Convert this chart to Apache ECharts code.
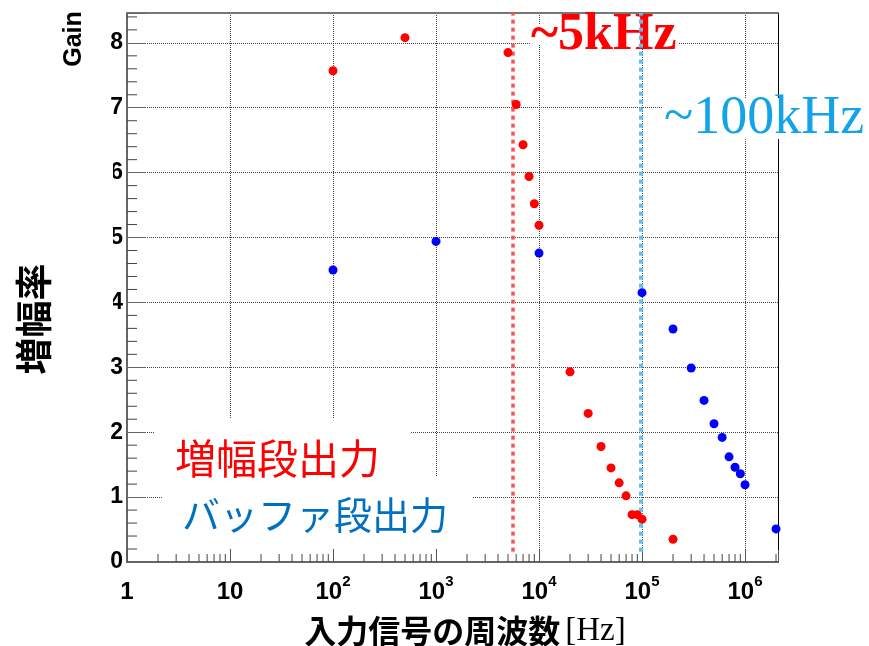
<!DOCTYPE html>
<html><head><meta charset="utf-8">
<script src="https://cdn.jsdelivr.net/npm/echarts@6/dist/echarts.min.js"></script>
<style>html,body{margin:0;padding:0;background:#fff}#c{width:869px;height:646px}</style>
</head><body><div id="c"></div>
<script>
// --- data ---
const freqAmp = [100, 500, 5000, 6000, 7000, 8000, 9000, 10000, 20000, 30000, 40000, 50000, 60000, 70000, 80000, 90000, 100000, 200000];
const gainAmp = [7.57, 8.08, 7.85, 7.05, 6.43, 5.94, 5.52, 5.19, 2.93, 2.29, 1.78, 1.45, 1.22, 1.02, 0.73, 0.73, 0.66, 0.35];
const freqBuf = [100, 1000, 10000, 100000, 200000, 300000, 400000, 500000, 600000, 700000, 800000, 900000, 1000000, 2000000];
const gainBuf = [4.50, 4.94, 4.76, 4.15, 3.59, 2.99, 2.49, 2.13, 1.92, 1.62, 1.46, 1.36, 1.19, 0.51];
const cutoffAmp = 5620;     // red dotted marker (~5kHz)
const cutoffBuf = 96200;    // blue dotted marker (~100kHz)
const markerLow = 0.16, markerHigh = 8.46;
const xMin = 1, xMax = 2.09e6;
const yMin = 0, yMax = 8.46;
const seriesNames = ['増幅段出力', 'バッファ段出力'];
const xTitle = '入力信号の周波数';
const xUnit = '[Hz]';
const yTitle = '増幅率';
const yUnitLabel = 'Gain';
const annotAmp = '~5kHz';
const annotBuf = '~100kHz';

// minor tick positions (axis decoration)
const xMinorTicks = [];
for (let e = 0; e <= 6; e++) for (let m = 2; m <= 9; m++) { const v = m * Math.pow(10, e); if (v < xMax) xMinorTicks.push(v); }
const yMinorTicks = [];
for (let i = 1; i <= 42; i++) if (i % 5 !== 0) yMinorTicks.push(i / 5);

const chart = echarts.init(document.getElementById('c'), null, {renderer: 'canvas'});
const sansB = {fontFamily: 'Liberation Sans', fontWeight: 'bold', color: '#000'};

function xLabel(v) {
  const e = Math.log10(v);
  const r = Math.round(e);
  if (Math.abs(e - r) > 1e-6) return '';
  if (r === 0) return '{b|1}';
  if (r === 1) return '{b|10}';
  return '{b|10}{s|' + r + '}';
}

const option = {
  animation: false,
  backgroundColor: '#fff',
  grid: {left: 127, right: 91, top: 13, bottom: 84},
  xAxis: [{
    type: 'log', logBase: 10, min: xMin, max: xMax, splitNumber: 6,
    axisLine: {onZero: false, lineStyle: {color: '#666', width: 2}},
    axisTick: {show: true, inside: true, length: 12, lineStyle: {color: '#555', width: 1}},
    axisLabel: {
      margin: 12, formatter: xLabel, showMinLabel: true, showMaxLabel: true,
      rich: {
        b: Object.assign({fontSize: 24, lineHeight: 30, verticalAlign: 'bottom'}, sansB),
        s: Object.assign({fontSize: 15, lineHeight: 15, verticalAlign: 'top'}, sansB)
      }
    },
    splitLine: {show: true, lineStyle: {color: '#444', width: 1, type: [1, 1]}},
    minorTick: {show: false}
  }, {
    type: 'log', logBase: 10, min: xMin, max: xMax, position: 'top',
    axisLine: {onZero: false, lineStyle: {color: '#777', width: 2}},
    axisTick: {show: false}, axisLabel: {show: false}, splitLine: {show: false}
  }],
  yAxis: [{
    type: 'value', min: yMin, max: yMax, interval: 1,
    axisLine: {show: true, onZero: false, lineStyle: {color: '#666', width: 2}},
    axisTick: {show: true, inside: true, length: 19, lineStyle: {color: '#666', width: 1}},
    axisLabel: Object.assign({margin: 4, fontSize: 23,
      formatter: v => (Math.abs(v - Math.round(v)) < 1e-9 ? String(Math.round(v)) : '')}, sansB),
    splitLine: {show: true, lineStyle: {color: '#444', width: 1, type: [1, 1]}}
  }, {
    type: 'value', min: yMin, max: yMax, position: 'right',
    axisLine: {show: true, onZero: false, lineStyle: {color: '#000', width: 1}},
    axisTick: {show: false}, axisLabel: {show: false}, splitLine: {show: false}
  }],
  series: [
    {
      name: seriesNames[0], type: 'scatter', z: 5, symbol: 'circle', symbolSize: 9,
      itemStyle: {color: '#ff0000', opacity: 1},
      data: freqAmp.map((f, i) => [f, gainAmp[i]]),
      markLine: {
        silent: true, symbol: 'none', z: 5, label: {show: false},
        lineStyle: {color: '#ff4f4f', width: 3.5, type: [4, 4], opacity: 1},
        data: [[{coord: [cutoffAmp, markerLow]}, {coord: [cutoffAmp, markerHigh]}]]
      }
    },
    {
      name: seriesNames[1], type: 'scatter', z: 5, symbol: 'circle', symbolSize: 9,
      itemStyle: {color: '#0000ff', opacity: 1},
      data: freqBuf.map((f, i) => [f, gainBuf[i]]),
      markLine: {
        silent: true, symbol: 'none', z: 5, label: {show: false},
        lineStyle: {color: '#5cc2f0', width: 4, type: [4, 4], opacity: 1},
        data: [[{coord: [cutoffBuf, markerLow]}, {coord: [cutoffBuf, markerHigh]}]]
      }
    },
    {
      type: 'custom', z: 4, silent: true, clip: false,
      data: xMinorTicks.map(v => [v, 0]),
      renderItem: (params, api) => {
        const p = api.coord([api.value(0), 0]);
        return {type: 'line', shape: {x1: p[0], y1: p[1], x2: p[0], y2: p[1] - 8},
          style: {stroke: '#444', lineWidth: 1}};
      }
    },
    {
      type: 'custom', z: 4, silent: true, clip: false,
      data: yMinorTicks.map(v => [1, v]),
      renderItem: (params, api) => {
        const p = api.coord([1, api.value(1)]);
        return {type: 'line', shape: {x1: p[0], y1: p[1], x2: p[0] + 10, y2: p[1]},
          style: {stroke: '#444', lineWidth: 1}};
      }
    }
  ],
  graphic: {
    elements: [
      // white boxes behind texts (cover the grid, as in the reference)
      {type: 'rect', z: 1, silent: true, shape: {x: 155, y: 418, width: 255, height: 72}, style: {fill: '#fff'}},
      {type: 'rect', z: 1, silent: true, shape: {x: 163, y: 477, width: 310, height: 71}, style: {fill: '#fff'}},
      {type: 'rect', z: 1, silent: true, shape: {x: 530, y: 24, width: 148, height: 21}, style: {fill: '#fff'}},
      {type: 'rect', z: 1, silent: true, shape: {x: 662, y: 98, width: 207, height: 41}, style: {fill: '#fff'}},
      {type: 'rect', z: 20, z2: 100, silent: true, shape: {x: 98, y: 160, width: 15, height: 152}, style: {fill: '#fff'}},
      // legend texts
      {type: 'text', z: 1, silent: true, x: 175, y: 458,
        style: {text: seriesNames[0], fill: '#ff0000', fontSize: 41, fontFamily: 'Noto Sans CJK JP', align: 'left', verticalAlign: 'middle'}},
      {type: 'text', z: 1, silent: true, x: 182, y: 515,
        style: {text: seriesNames[1], fill: '#0070c0', fontSize: 38, fontFamily: 'Noto Sans CJK JP', align: 'left', verticalAlign: 'middle'}},
      // annotations
      {type: 'text', z: 1, silent: true, x: 531, y: 36,
        style: {text: annotAmp, fill: '#ff0000', fontSize: 52, fontWeight: 'bold', fontFamily: 'Liberation Serif', align: 'left', verticalAlign: 'middle'}},
      {type: 'text', z: 1, silent: true, x: 664, y: 119,
        style: {text: annotBuf, fill: '#13a3e8', fontSize: 54, fontFamily: 'Liberation Serif', align: 'left', verticalAlign: 'middle'}},
      // axis titles
      {type: 'text', z: 1, silent: true, x: 465, y: 631,
        style: {text: '{a|' + xTitle + '}{b|' + xUnit + '}', align: 'center', verticalAlign: 'middle',
          rich: {a: {fontSize: 32, fontWeight: 'bold', fontFamily: 'Noto Sans CJK JP', fill: '#000'},
                 b: {fontSize: 33, fontFamily: 'Liberation Serif', fill: '#000', padding: [0, 0, 0, 5]}}}},
      {type: 'text', z: 1, silent: true, x: 34, y: 319, rotation: Math.PI / 2,
        style: {text: yTitle, fontSize: 37, fontWeight: 'bold', fontFamily: 'Noto Sans CJK JP', fill: '#000', align: 'center', verticalAlign: 'middle'}},
      {type: 'text', z: 1, silent: true, x: 74, y: 39, rotation: Math.PI / 2,
        style: {text: yUnitLabel, fontSize: 25, fontWeight: 'bold', fontFamily: 'Liberation Sans', fill: '#000', align: 'center', verticalAlign: 'middle'}}
    ]
  }
};
chart.setOption(option);
</script>
</body></html>
